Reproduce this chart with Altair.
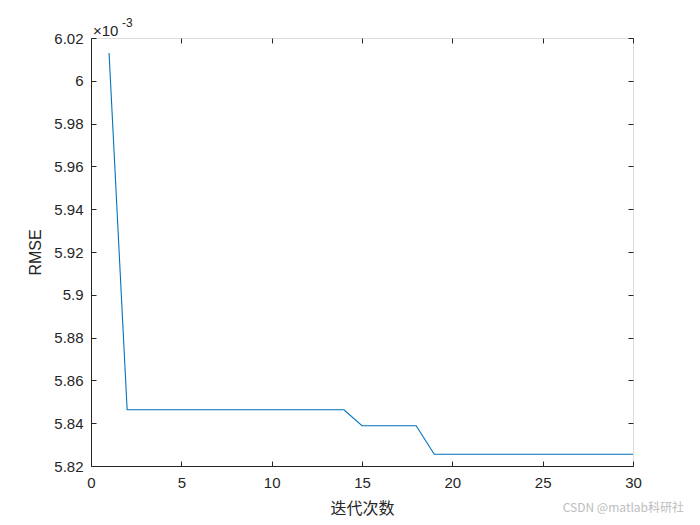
import altair as alt
import pandas as pd

iterations = list(range(1, 31))
rmse = [6.0130] + [5.8463] * 13 + [5.8388] * 4 + [5.8255] * 12
x_ticks = [0, 5, 10, 15, 20, 25, 30]
y_ticks = [5.82, 5.84, 5.86, 5.88, 5.90, 5.92, 5.94, 5.96, 5.98, 6.00, 6.02]

df = pd.DataFrame({"iter": iterations, "rmse": rmse})

W, H = 542, 428
T = 5  # inward tick length
FONT = "Liberation Sans"
CJK = "Noto Sans CJK SC"
AX = "#262626"

xs = alt.Scale(domain=[0, 30], nice=False, zero=False)
ys = alt.Scale(domain=[5.82, 6.02], nice=False, zero=False)

ylab = "toString(round(datum.value*100)/100)"

main = alt.Chart(df).mark_line(color="#0072BD", strokeWidth=1.1, clip=True).encode(
    x=alt.X("iter:Q", scale=xs, axis=alt.Axis(
        orient="bottom", values=x_ticks, ticks=False, domain=True, domainColor=AX,
        labelFont=FONT, labelFontSize=15, labelColor=AX, labelPadding=9, labelFlush=False,
        title="迭代次数", titleFont=CJK, titleFontSize=16, titleFontWeight="normal",
        titleColor=AX, titlePadding=10,
        grid=True, gridColor=AX, gridOpacity=1, gridWidth=1,
        gridDash=[T, H - 2 * T, T, 0])),
    y=alt.Y("rmse:Q", scale=ys, axis=alt.Axis(
        orient="left", values=y_ticks, ticks=False, domain=True, domainColor=AX,
        labelExpr=ylab, labelFont=FONT, labelFontSize=15, labelColor=AX, labelPadding=8,
        labelFlush=False,
        title="RMSE", titleFont=FONT, titleFontSize=16, titleFontWeight="normal",
        titleColor=AX, titlePadding=10,
        grid=True, gridColor=AX, gridOpacity=1, gridWidth=1,
        gridDash=[T, W - 2 * T, T, 0])),
)

exp_main = alt.Chart(pd.DataFrame({"t": ["×10"]})).mark_text(
    align="left", baseline="alphabetic", font=FONT, fontSize=15, color=AX
).encode(x=alt.value(2), y=alt.value(-2), text="t:N")
exp_sup = alt.Chart(pd.DataFrame({"t": ["-3"]})).mark_text(
    align="left", baseline="alphabetic", font=FONT, fontSize=12, color=AX
).encode(x=alt.value(31), y=alt.value(-11), text="t:N")
wm = alt.Chart(pd.DataFrame({"t": ["CSDN @matlab科研社"]})).mark_text(
    align="right", baseline="middle", font=CJK, fontSize=12, color="#bdbdbd"
).encode(x=alt.value(593), y=alt.value(470), text="t:N")

chart = alt.layer(main, exp_main, exp_sup, wm).properties(
    width=W, height=H,
    autosize=alt.AutoSizeParams(type="none"),
    padding={"left": 83, "top": 30, "right": 59, "bottom": 51},
).configure_view(stroke=AX, strokeWidth=1).configure(background="white")

chart.save("out.html", embed_options={"renderer": "svg", "actions": False})
